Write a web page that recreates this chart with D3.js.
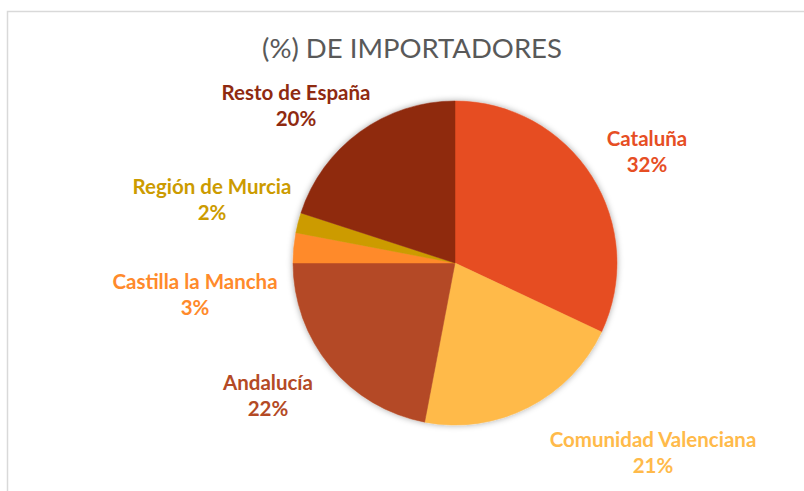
<!DOCTYPE html>
<html>
<head>
<meta charset="utf-8">
<script src="https://cdn.jsdelivr.net/npm/d3@7"></script>
<style>
  html, body { margin: 0; padding: 0; background: #fff; }
  svg { display: block; }
</style>
</head>
<body>
<div id="chart"></div>
<script>

// data
const regiones = ["Cataluña", "Comunidad Valenciana", "Andalucía", "Castilla la Mancha", "Región de Murcia", "Resto de España"];
const porcentajes = [32, 21, 22, 3, 2, 20];
const colores = ["#E64E24", "#FFBA4A", "#B44A25", "#FF8A2B", "#CC9B00", "#8F2A10"];

const title = "(%) DE IMPORTADORES";

const width = 804,
      height = 491;

const cx = 455,
      cy = 263,
      radius = 162;

// label anchors (centre of the two-line block), Excel "best fit" style
const labelAt = {
  "Cataluña":             [647, 152],
  "Comunidad Valenciana": [653, 453],
  "Andalucía":            [268, 396],
  "Castilla la Mancha":   [195, 295],
  "Región de Murcia":     [212, 200],
  "Resto de España":      [296, 106]
};

const svg = d3.select("#chart").append("svg")
  .attr("width", width)
  .attr("height", height);

// chart area frame
svg.append("rect")
  .attr("x", 7.5)
  .attr("y", 11.5)
  .attr("width", width)
  .attr("height", height)
  .attr("fill", "#fff")
  .attr("stroke", "#d9d9d9")
  .attr("stroke-width", 1.5);

const defs = svg.append("defs");
defs.append("filter")
  .attr("id", "shadow")
  .attr("x", "-20%").attr("y", "-20%")
  .attr("width", "140%").attr("height", "140%")
  .append("feDropShadow")
  .attr("dx", 0).attr("dy", 0)
  .attr("stdDeviation", 3)
  .attr("flood-color", "#000")
  .attr("flood-opacity", 0.35);

svg.append("text")
  .attr("x", 412)
  .attr("y", 58)
  .attr("text-anchor", "middle")
  .style("font-family", "Lato, 'Open Sans', sans-serif")
  .style("font-size", "27.5px")
  .style("fill", "#595959")
  .text(title);

const pie = d3.pie().sort(null).value(d => d);
const arc = d3.arc().innerRadius(0).outerRadius(radius);

const g = svg.append("g")
  .attr("transform", "translate(" + cx + "," + cy + ")");

const slices = pie(porcentajes);

g.append("g")
  .attr("filter", "url(#shadow)")
  .selectAll("path")
  .data(slices)
  .join("path")
  .attr("d", arc)
  .attr("fill", (d, i) => colores[i])
  .attr("stroke", (d, i) => colores[i])
  .attr("stroke-width", 0.5);

const labels = svg.append("g")
  .style("font-family", "Lato, 'Open Sans', sans-serif")
  .style("font-weight", "bold")
  .style("font-size", "20.5px");

slices.forEach((d, i) => {
  const name = regiones[i];
  const p = labelAt[name];
  const t = labels.append("text")
    .attr("text-anchor", "middle")
    .attr("x", p[0])
    .attr("y", p[1])
    .style("fill", colores[i]);
  t.append("tspan").attr("x", p[0]).attr("dy", "-0.3em").text(name);
  t.append("tspan").attr("x", p[0]).attr("dy", "1.28em").text(porcentajes[i] + "%");
});

</script>
</body>
</html>
